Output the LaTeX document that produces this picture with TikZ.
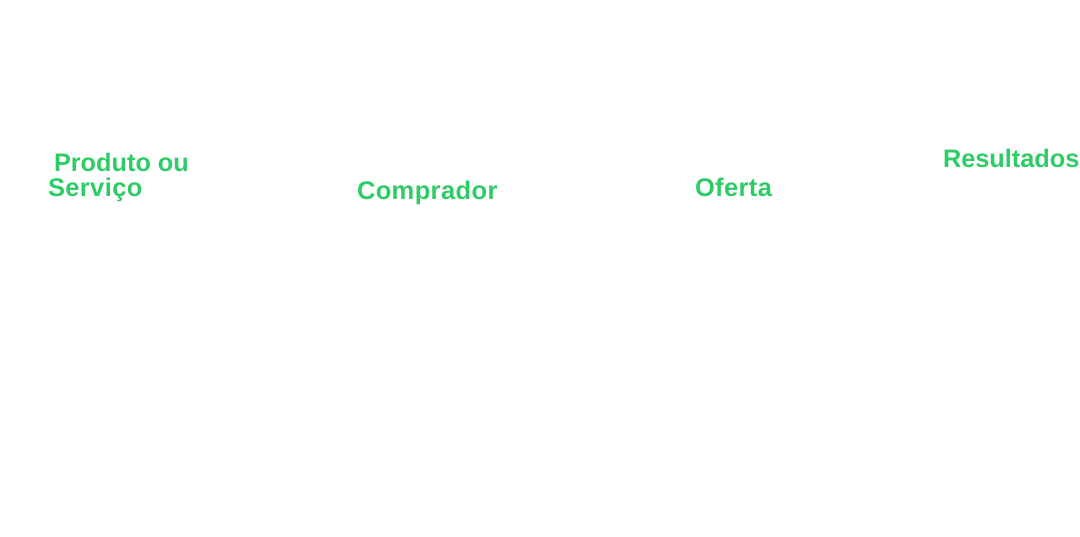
\documentclass[tikz,border=0pt]{standalone}
\usepackage{fontspec}
\setmainfont{Liberation Sans}
\newfontfamily\spacedfont{Liberation Sans}[LetterSpace=1.5]
\definecolor{labelgreen}{RGB}{46,204,102}
\tikzset{
  lbl/.style={anchor=base west, inner sep=0pt, outer sep=0pt, text=labelgreen,
    font=\spacedfont\fontsize{25.5pt}{25pt}\selectfont\bfseries, align=left},
  lbltight/.style={lbl, font=\rmfamily\fontsize{25.3pt}{25pt}\selectfont\bfseries}
}
\begin{document}
\begin{tikzpicture}[x=1pt,y=-1pt]
\useasboundingbox[fill=white] (0,0) rectangle (1080,536);
\node[lbltight] (produto) at (54,171) {Produto ou};
\node[lbl] (servico) at (48,196) {Serviço};
\node[lbl] (comprador) at (357,199) {Comprador};
\node[lbl] (oferta) at (695,196) {Oferta};
\node[lbltight] (resultados) at (943,167) {Resultados};
\end{tikzpicture}
\end{document}
